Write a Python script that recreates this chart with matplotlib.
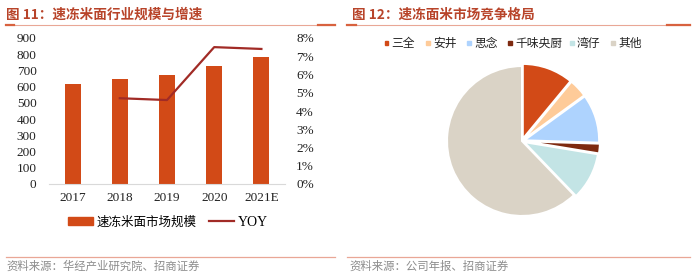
import matplotlib
matplotlib.use("Agg")
import matplotlib.pyplot as plt
from matplotlib.ticker import FuncFormatter
from matplotlib.lines import Line2D
from matplotlib.patches import Patch

plt.rcParams['font.family'] = ['Noto Sans CJK SC', 'DejaVu Sans']

# ---- data ----
years = ['2017', '2018', '2019', '2020', '2021E']
market_size = [619, 647, 675, 727, 781]
yoy = [None, 4.7, 4.6, 7.5, 7.4]   # percent

brands = ['三全', '安井', '思念', '千味央厨', '湾仔', '其他']
shares = [11.0, 4.0, 10.5, 2.1, 10.2, 62.2]

# ---- styling ----
TITLE_C = '#B8442A'
RULE_C = '#E9A796'
RULE_DARK = '#D8623F'
BAR_C = '#D24A17'
LINE_C = '#A12B26'
TICK_C = '#222222'
SRC_C = '#8C8C8C'
pie_colors = ['#D24A17', '#FECB99', '#AED3FE', '#7E2A10', '#C3E4E5', '#DAD3C6']

W, H = 700, 276
fig = plt.figure(figsize=(W / 100, H / 100), dpi=100)


def fx(px):
    return px / W


def fy(py):
    return 1 - py / H


serif = 'Liberation Serif'

# ---- titles and rules ----
fig.text(fx(6), fy(15), '图 11：速冻米面行业规模与增速', color=TITLE_C,
         fontsize=9.8, fontweight='bold', va='center', ha='left')
fig.text(fx(352), fy(15), '图 12：速冻面米市场竞争格局', color=TITLE_C,
         fontsize=9.8, fontweight='bold', va='center', ha='left')

for (x0, x1, dark) in [(6, 335, [(6, 14), (318, 335)]),
                       (347, 690, [(347, 356), (667, 690)])]:
    fig.add_artist(Line2D([fx(x0), fx(x1)], [fy(24.5), fy(24.5)], color=RULE_C, lw=0.8))
    for a, b in dark:
        fig.add_artist(Line2D([fx(a), fx(b)], [fy(24.5), fy(24.5)], color=RULE_DARK, lw=1.6))
    fig.add_artist(Line2D([fx(x0), fx(x1)], [fy(257), fy(257)], color=RULE_C, lw=0.9))

fig.text(fx(6), fy(266), '资料来源：华经产业研究院、招商证券', color=SRC_C,
         fontsize=8.2, va='center', ha='left')
fig.text(fx(349), fy(266), '资料来源：公司年报、招商证券', color=SRC_C,
         fontsize=8.2, va='center', ha='left')

# ---- bar + line chart ----
ax = fig.add_axes([fx(49), fy(184), fx(236), (184 - 38) / H])
xs = list(range(len(years)))
ax.bar(xs, market_size, width=0.34, color=BAR_C, zorder=2)
ax.set_xlim(-0.5, len(years) - 0.5)
ax.set_ylim(0, 900)
ax.set_yticks(range(0, 901, 100))
ax.set_xticks(xs)
ax.set_xticklabels(years)
for s in ['top', 'right', 'left']:
    ax.spines[s].set_visible(False)
ax.spines['bottom'].set_color('#D9D9D9')
ax.spines['bottom'].set_linewidth(0.8)
ax.tick_params(axis='both', length=0, labelsize=9.5, colors=TICK_C)
ax.tick_params(axis='y', pad=9)
ax.tick_params(axis='x', pad=6)
for lab in ax.get_xticklabels() + ax.get_yticklabels():
    lab.set_fontfamily(serif)

ax2 = ax.twinx()
yx = [x for x, v in zip(xs, yoy) if v is not None]
yv = [v for v in yoy if v is not None]
ax2.plot(yx, yv, color=LINE_C, lw=1.6, zorder=3)
ax2.set_ylim(0, 8)
ax2.set_yticks(range(0, 9))
ax2.yaxis.set_major_formatter(FuncFormatter(lambda v, p: f'{int(v)}%'))
for s in ['top', 'right', 'left', 'bottom']:
    ax2.spines[s].set_visible(False)
ax2.tick_params(axis='y', length=0, labelsize=9.5, colors=TICK_C, pad=8)
for lab in ax2.get_yticklabels():
    lab.set_fontfamily(serif)

handles = [Patch(color=BAR_C), Line2D([0], [0], color=LINE_C, lw=1.6)]
leg = fig.legend(handles, ['速冻米面市场规模', 'YOY'], loc='center',
                 bbox_to_anchor=(fx(168), fy(222)), ncol=2, frameon=False,
                 fontsize=9, handlelength=2.0, handleheight=0.6,
                 columnspacing=1.0, handletextpad=0.3)
leg.get_texts()[1].set_fontfamily(serif)
leg.get_texts()[1].set_fontsize(10)

# ---- pie chart ----
r_px = 78
pax = fig.add_axes([fx(522 - r_px), fy(141 + r_px), fx(2 * r_px), 2 * r_px / H])
explode = [0.03, 0.03, 0.03, 0.04, 0.03, 0.0]
pax.pie(shares, colors=pie_colors, startangle=90, counterclock=False,
        explode=explode, radius=1.0,
        wedgeprops=dict(edgecolor='white', linewidth=1.5))
pax.set_xlim(-1.04, 1.04)
pax.set_ylim(-1.04, 1.04)
pax.set_aspect('equal')

# legend row above the pie
marker_x = [386.5, 428, 469, 510, 572, 613]
for mx, name, col in zip(marker_x, brands, pie_colors):
    fig.add_artist(plt.Rectangle((fx(mx - 2), fy(45)), fx(4), 4 / H, color=col))
    fig.text(fx(mx + 5), fy(43), name, fontsize=8.5, color=TICK_C,
             va='center', ha='left')

fig.savefig('out.png', dpi=100)
